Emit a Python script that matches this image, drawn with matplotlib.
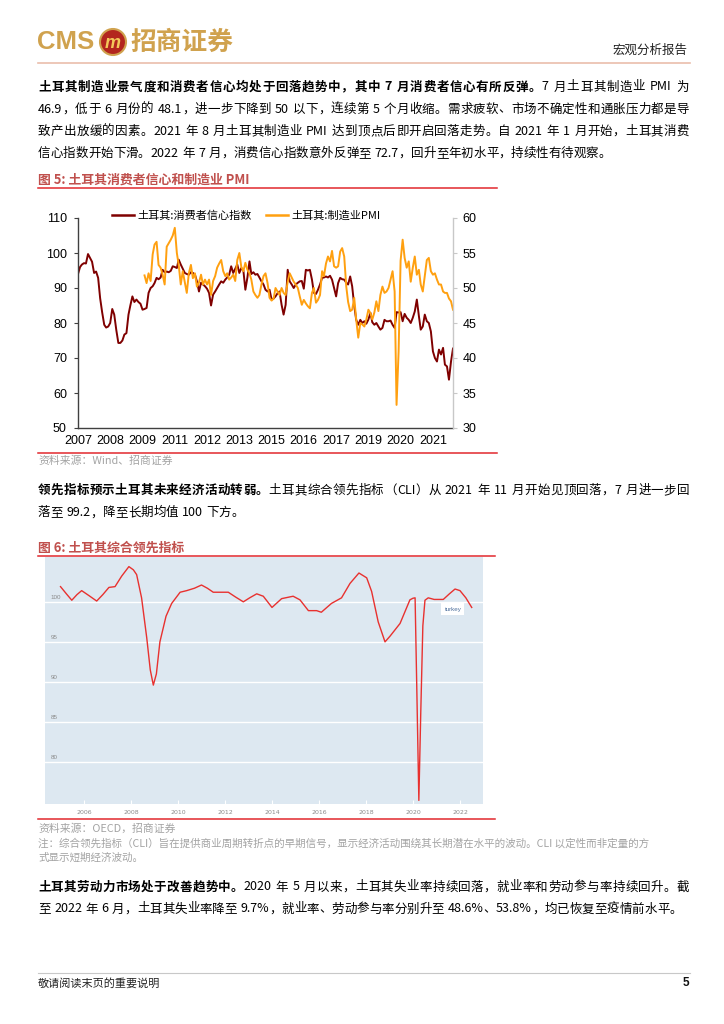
"""Report page 5 — Turkey consumer confidence / PMI and OECD CLI.

Output: out.png (724x1024)
"""
import re

import matplotlib
matplotlib.use("Agg")
import matplotlib.pyplot as plt
import matplotlib.transforms as mtransforms
import numpy as np
import pandas as pd
from matplotlib.lines import Line2D
from matplotlib.patches import Ellipse

W, H = 724, 1024
CJK = ["Noto Sans CJK SC", "DejaVu Sans"]
ARIAL = ["Liberation Sans", "DejaVu Sans"]

GOLD = "#d0a24e"
TITLE_RED = "#c0504d"
RULE_RED = "#e2282e"
GREY_TXT = "#a3a3a3"
CC_COLOR = "#7f0000"
PMI_COLOR = "#ffa010"
CLI_COLOR = "#e8312f"

# ---- data: figure 5 (monthly, consumer confidence from 2007-01) ----
cc_start = "2007-01"
cc_values = [
    94.0, 96.0, 96.7, 97.1, 97.0, 99.7, 98.6, 97.5, 94.3, 94.7, 92.9, 87.1,
    83.0, 79.5, 78.7, 79.0, 80.0, 84.0, 82.4, 78.0, 74.3, 74.3, 75.0, 76.7,
    77.1, 82.4, 85.0, 87.6, 86.0, 86.7, 86.0, 85.5, 83.8, 84.0, 84.3, 88.6,
    90.0, 90.5, 91.4, 92.9, 92.5, 93.0, 95.2, 94.5, 94.7, 94.5, 94.9, 96.2,
    96.0, 95.7, 98.1, 96.7, 95.5, 94.3, 94.0, 93.8, 94.5, 94.3, 93.8, 91.9,
    89.0, 91.5, 91.0, 90.5, 89.8, 88.6, 85.0, 88.1, 89.0, 90.0, 91.0, 91.9,
    91.5, 92.4, 93.0, 93.8, 96.2, 94.3, 95.5, 96.7, 94.3, 95.7, 95.0, 89.5,
    93.0, 97.6, 94.0, 94.5, 93.8, 94.0, 93.0, 91.9, 91.0, 89.5, 89.0, 89.5,
    86.7, 87.0, 87.6, 88.5, 89.0, 85.2, 82.4, 85.2, 95.2, 91.9, 91.0, 90.0,
    91.0, 91.5, 91.9, 92.0, 89.8, 95.2, 95.0, 95.2, 92.4, 88.6, 88.3, 89.5,
    91.0, 92.9, 93.0, 93.3, 93.0, 93.5, 92.4, 90.0, 87.6, 91.4, 92.9, 92.5,
    92.4, 91.5, 91.0, 93.3, 90.5, 85.0, 80.9, 79.5, 80.9, 80.0, 80.5, 79.8,
    81.0, 82.9, 80.2, 79.5, 80.0, 79.0, 78.1, 78.6, 80.9, 80.5, 80.5, 80.7,
    79.5, 78.6, 83.1, 83.0, 83.1, 80.5, 82.6, 81.5, 80.9, 80.0, 81.5, 83.3,
    86.7, 82.0, 78.1, 79.0, 82.4, 80.5, 80.0, 77.6, 71.9, 70.0, 69.0, 72.4,
    71.0, 72.9, 68.1, 67.6, 63.8, 69.0, 72.7,
]
pmi_start = "2009-10"
pmi_values = [
    51.8, 50.7, 52.1, 51.0, 54.8, 56.2, 56.6, 53.3, 52.9, 51.9, 50.5, 55.9,
    56.4, 56.9, 57.5, 58.6, 55.0, 53.3, 50.5, 52.4, 50.8, 49.3, 52.1, 53.3,
    51.4, 52.1, 50.2, 50.8, 51.9, 50.5, 51.2, 50.5, 51.2, 49.0, 51.0, 51.7,
    52.9, 53.5, 54.0, 52.4, 51.7, 52.1, 51.2, 51.5, 51.9, 51.0, 54.0, 55.0,
    53.0, 52.4, 53.6, 52.6, 52.1, 51.2, 49.5, 49.0, 48.6, 49.0, 50.5, 51.7,
    52.1, 50.7, 48.6, 48.2, 48.5, 50.0, 49.5, 49.0, 50.0, 49.3, 49.0, 50.9,
    52.1, 51.5, 50.9, 50.5, 50.0, 48.8, 47.6, 48.3, 47.8, 47.4, 47.1, 49.3,
    50.0, 47.9, 48.3, 49.0, 52.4, 51.7, 53.5, 54.5, 53.8, 55.3, 53.1, 52.9,
    53.1, 55.2, 55.7, 54.5, 50.2, 48.0, 46.7, 46.9, 48.6, 45.5, 42.9, 45.0,
    44.8, 44.5, 45.5, 46.9, 46.4, 45.5, 46.5, 48.1, 46.7, 49.0, 50.2, 49.3,
    49.5, 50.0, 51.2, 52.4, 49.5, 33.3, 40.9, 53.9, 56.9, 54.3, 52.9, 53.8,
    50.9, 52.9, 54.5, 51.9, 52.6, 50.5, 49.5, 51.7, 54.0, 54.3, 52.4, 51.9,
    52.1, 51.2, 50.5, 50.5, 49.5, 49.3, 49.3, 48.5, 48.1, 46.9,
]
cc_labels = ["土耳其:消费者信心指数", "土耳其:制造业PMI"]
left_ticks = [50, 60, 70, 80, 90, 100, 110]
right_ticks = [30, 35, 40, 45, 50, 55, 60]
label_every = 16  # Wind labels one month in sixteen

# ---- data: figure 6 (OECD CLI) ----
cli_years = [
    2005.0, 2005.25, 2005.48, 2005.7, 2005.9, 2006.2, 2006.54, 2006.8,
    2007.06, 2007.32, 2007.6, 2007.91, 2008.1, 2008.24, 2008.45, 2008.67,
    2008.82, 2008.95, 2009.08, 2009.23, 2009.49, 2009.73, 2010.09, 2010.37,
    2010.7, 2011.0, 2011.25, 2011.5, 2012.14, 2012.45, 2012.78, 2013.05,
    2013.35, 2013.63, 2014.0, 2014.41, 2014.9, 2015.19, 2015.55, 2015.9,
    2016.1, 2016.53, 2016.96, 2017.32, 2017.7, 2018.03, 2018.24, 2018.52,
    2018.81, 2019.02, 2019.45, 2019.87, 2020.0, 2020.09, 2020.17, 2020.25,
    2020.33, 2020.42, 2020.51, 2020.65, 2020.9, 2021.29, 2021.55, 2021.79,
    2022.0, 2022.25, 2022.5,
]
cli_values = [
    101.9, 101.0, 100.2, 100.9, 101.4, 100.8, 100.1, 100.9,
    101.8, 101.9, 103.2, 104.4, 104.0, 103.4, 100.5, 95.5,
    91.5, 89.6, 91.0, 95.0, 98.2, 99.8, 101.2, 101.4,
    101.7, 102.1, 101.7, 101.2, 101.2, 100.6, 100.0, 100.5,
    101.0, 100.7, 99.3, 100.4, 100.7, 100.25, 98.9, 98.9,
    98.7, 99.8, 100.5, 102.3, 103.6, 103.0, 101.3, 97.5,
    95.0, 95.7, 97.3, 100.25, 100.45, 100.5, 88.0, 75.2,
    86.0, 97.0, 100.2, 100.5, 100.3, 100.3, 101.0, 101.6,
    101.4, 100.5, 99.3,
]
cli_yticks = [80, 85, 90, 95, 100]
cli_xticks = [2006, 2008, 2010, 2012, 2014, 2016, 2018, 2020, 2022]

# ---- page text ----
para1 = [
    [("土耳其制造业景气度和消费者信心均处于回落趋势中，其中 7 月消费者信心有所反弹。", True),
     ("7 月土耳其制造业 PMI 为", False)],
    [("46.9，低于 6 月份的 48.1，进一步下降到 50 以下，连续第 5 个月收缩。需求疲软、市场不确定性和通胀压力都是导", False)],
    [("致产出放缓的因素。2021 年 8 月土耳其制造业 PMI 达到顶点后即开启回落走势。自 2021 年 1 月开始，土耳其消费", False)],
    [("信心指数开始下滑。2022 年 7 月，消费信心指数意外反弹至 72.7，回升至年初水平，持续性有待观察。", False)],
]
para2 = [
    [("领先指标预示土耳其未来经济活动转弱。", True),
     ("土耳其综合领先指标（CLI）从 2021 年 11 月开始见顶回落，7 月进一步回", False)],
    [("落至 99.2，降至长期均值 100 下方。", False)],
]
para3 = [
    [("土耳其劳动力市场处于改善趋势中。", True),
     ("2020 年 5 月以来，土耳其失业率持续回落，就业率和劳动参与率持续回升。截", False)],
    [("至 2022 年 6 月，土耳其失业率降至 9.7%，就业率、劳动参与率分别升至 48.6%、53.8%，均已恢复至疫情前水平。", False)],
]
note_lines = [
    "注：综合领先指标（CLI）旨在提供商业周期转折点的早期信号，显示经济活动围绕其长期潜在水平的波动。CLI 以定性而非定量的方",
    "式显示短期经济波动。",
]

fig = plt.figure(figsize=(W / 100, H / 100), dpi=100)
renderer = fig.canvas.get_renderer()


def fx(x):
    return x / W


def fy(y):
    return 1 - y / H


def hline(y, x0, x1, color, lw):
    fig.add_artist(Line2D([fx(x0), fx(x1)], [fy(y), fy(y)], color=color,
                          lw=lw, transform=fig.transFigure))


TOKEN = re.compile(r"[A-Za-z0-9.%]+| |.")


def text_line(segs, x0, y, x1=None, size=9, color="black"):
    """Lay one line token by token; stretch to x1 when justified."""
    items = [(tok, bold) for s, bold in segs for tok in TOKEN.findall(s)]
    arts, widths = [], []
    for tok, bold in items:
        if tok == " ":
            arts.append(None)
            widths.append(size * 0.28 * 100 / 72)
            continue
        t = fig.text(0, fy(y), tok, fontsize=size, family=CJK, color=color,
                     fontweight="bold" if bold else "normal",
                     ha="left", va="center")
        arts.append(t)
        widths.append(t.get_window_extent(renderer).width)
    gap = 0.0
    if x1 is not None and len(items) > 1:
        gap = (x1 - x0 - sum(widths)) / (len(items) - 1)
    x = x0
    for a, w in zip(arts, widths):
        if a is not None:
            a.set_x(fx(x))
        x += w + gap


def paragraph(lines, y0, dy=22.2):
    for i, segs in enumerate(lines):
        last = i == len(lines) - 1
        text_line(segs, 38, y0 + i * dy, None if last else 689)


# ---- header ----
fig.text(fx(37), fy(42), "CMS", fontsize=18.5, family=ARIAL, fontweight="bold",
         color=GOLD, ha="left", va="center")
fig.add_artist(Ellipse((fx(113), fy(42)), 26 / W, 26 / H, transform=fig.transFigure,
                       fc="#b3261e", ec=GOLD, lw=1.5))
fig.text(fx(113), fy(43), "m", fontsize=13, family=ARIAL, fontweight="bold",
         fontstyle="italic", color="#f3c85a", ha="center", va="center")
fig.text(fx(130), fy(42), "招商证券", fontsize=18.5, family=CJK, fontweight="bold",
         color=GOLD, ha="left", va="center")
fig.text(fx(688), fy(50), "宏观分析报告", fontsize=9, family=CJK,
         color="#222222", ha="right", va="center")
hline(62.5, 38, 690, "#eabdab", 1.2)

paragraph(para1, 87)

# ---- figure 5 ----
fig.text(fx(38), fy(180), "图 5: 土耳其消费者信心和制造业 PMI", fontsize=9.3,
         family=CJK, fontweight="bold", color=TITLE_RED, ha="left", va="center")
hline(188, 38, 497, RULE_RED, 1.1)

cc_dates = pd.date_range(cc_start, periods=len(cc_values), freq="MS")
pmi_dates = pd.date_range(pmi_start, periods=len(pmi_values), freq="MS")

ax1 = fig.add_axes([fx(78), fy(428), (453 - 78) / W, (428 - 218) / H])
ax1.plot(cc_dates, cc_values, color=CC_COLOR, lw=1.4)
ax1.set_xlim(cc_dates[0], cc_dates[-1])
ax1.set_ylim(left_ticks[0], left_ticks[-1])
ax1.set_yticks(left_ticks)
ax1.set_xticks(cc_dates[::label_every])
ax1.set_xticklabels([str(d.year) for d in cc_dates[::label_every]])
ax1.tick_params(axis="y", length=3, width=0.8, color="#404040", labelsize=9, pad=5)
ax1.tick_params(axis="x", length=0, labelsize=9, pad=5)
for lab in ax1.get_xticklabels() + ax1.get_yticklabels():
    lab.set_family(ARIAL)
ax1.spines["top"].set_visible(False)
ax1.spines["right"].set_visible(False)
for side in ("left", "bottom"):
    ax1.spines[side].set_color("#404040")
    ax1.spines[side].set_linewidth(1.0)

ax1b = ax1.twinx()
ax1b.plot(pmi_dates, pmi_values, color=PMI_COLOR, lw=1.4)
ax1b.set_ylim(right_ticks[0], right_ticks[-1])
ax1b.set_yticks(right_ticks)
ax1b.tick_params(axis="y", length=3, width=0.8, color="#c8c8c8", labelsize=9, pad=4)
for lab in ax1b.get_yticklabels():
    lab.set_family(ARIAL)
for side in ("top", "left", "bottom"):
    ax1b.spines[side].set_visible(False)
ax1b.spines["right"].set_color("#c8c8c8")
ax1b.spines["right"].set_linewidth(1.0)

handles = [Line2D([], [], color=CC_COLOR, lw=1.8), Line2D([], [], color=PMI_COLOR, lw=1.8)]
ax1b.legend(handles, cc_labels, ncol=2, loc="center", bbox_to_anchor=(0.449, 1.01),
            frameon=False, prop={"family": CJK, "size": 8}, handlelength=2.0,
            columnspacing=1.3, handletextpad=0.3, borderpad=0)

hline(452.5, 38, 497, RULE_RED, 1.1)
fig.text(fx(38), fy(461), "资料来源：Wind、招商证券", fontsize=7.8, family=CJK,
         color=GREY_TXT, ha="left", va="center")

paragraph(para2, 490.5)

# ---- figure 6 ----
fig.text(fx(38), fy(548), "图 6: 土耳其综合领先指标", fontsize=9.3, family=CJK,
         fontweight="bold", color=TITLE_RED, ha="left", va="center")

ax2 = fig.add_axes([fx(45), fy(804), (483 - 45) / W, (804 - 557) / H])
ax2.set_facecolor("#dde8f1")
for s in ax2.spines.values():
    s.set_visible(False)
ax2.plot(cli_years, cli_values, color=CLI_COLOR, lw=1.0, solid_joinstyle="round")
ax2.set_xlim(2004.34, 2022.98)
ax2.set_ylim(74.75, 105.6)
ax2.set_yticks(cli_yticks)
ax2.yaxis.grid(True, color="white", lw=1.0)
ax2.set_axisbelow(True)
ax2.tick_params(axis="y", length=0, labelleft=False)
ax2.set_xticks(cli_xticks)
ax2.tick_params(axis="x", direction="in", length=3, width=0.8, color="white",
                labelsize=4.5, labelcolor="#8a8a8a", pad=4)
blend = mtransforms.blended_transform_factory(ax2.transAxes, ax2.transData)
for v in cli_yticks:
    ax2.text(0.013, v + 0.55, str(v), transform=blend, fontsize=4.5,
             family=ARIAL, color="#8a8a8a", ha="left", va="center")
ax2.text(2021.7, 99.1, "turkey", fontsize=4.5, family=ARIAL, color="#4d6f9c",
         ha="center", va="center",
         bbox=dict(boxstyle="square,pad=0.5", fc="white", ec="none"))

hline(556, 38, 495, RULE_RED, 1.1)
hline(819, 38, 495, RULE_RED, 1.1)
fig.text(fx(38), fy(829), "资料来源：OECD，招商证券", fontsize=7.8, family=CJK,
         color=GREY_TXT, ha="left", va="center")
for i, line in enumerate(note_lines):
    fig.text(fx(38), fy(843 + i * 14.5), line, fontsize=7.6, family=CJK,
             color=GREY_TXT, ha="left", va="center")

paragraph(para3, 887, dy=22)

# ---- footer ----
hline(973, 38, 690, "#c8c8c8", 0.8)
fig.text(fx(38), fy(983), "敬请阅读末页的重要说明", fontsize=8, family=CJK,
         color="#222222", ha="left", va="center")
fig.text(fx(689), fy(983), "5", fontsize=8.5, family=ARIAL, fontweight="bold",
         color="#111111", ha="right", va="center")

fig.savefig("out.png", dpi=100)
print("Wrote out.png")
